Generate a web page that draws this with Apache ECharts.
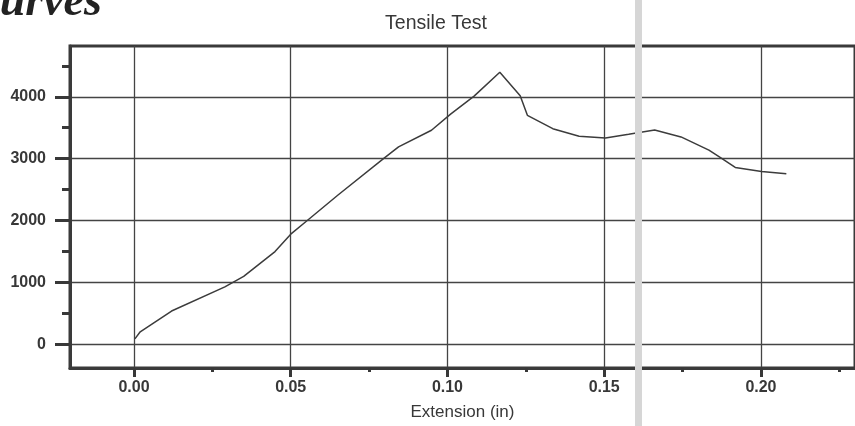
<!DOCTYPE html>
<html>
<head>
<meta charset="utf-8">
<title>Tensile Test</title>
<script src="https://cdn.jsdelivr.net/npm/echarts@6/dist/echarts.min.js"></script>
<style>
  html, body { margin: 0; padding: 0; background: #fff; }
  #main { width: 855px; height: 426px; }
</style>
</head>
<body>
<div id="main"></div>
<script>
// extension (in) and load
var extension = [0.0003, 0.002, 0.012, 0.029, 0.035, 0.045, 0.0503, 0.055, 0.065,
  0.0797, 0.0844, 0.0949, 0.101, 0.1085, 0.1167, 0.1232, 0.1255, 0.1336, 0.142,
  0.1504, 0.1578, 0.1661, 0.1745, 0.1834, 0.1871, 0.1918, 0.2002, 0.2081];
var load = [90, 205, 540, 930, 1100, 1500, 1795, 1990, 2410,
  3005, 3190, 3460, 3720, 4010, 4395, 4015, 3700, 3485, 3362,
  3336, 3394, 3465, 3352, 3139, 3018, 2858, 2795, 2757];
var xTicks = [0, 0.05, 0.1, 0.15, 0.2];
var yTicks = [0, 1000, 2000, 3000, 4000];

var points = [];
for (var i = 0; i < extension.length; i++) {
  points.push([extension[i], load[i]]);
}

var ink = '#383838';
var xMin = -0.0204, xMax = 0.23;
var yMin = -380, yMax = 4820;

var chart = echarts.init(document.getElementById('main'));
var option = {
  backgroundColor: '#fff',
  animation: false,
  title: {
    text: 'Tensile Test',
    left: 431,
    top: 9,
    textAlign: 'center',
    textStyle: { fontFamily: 'Liberation Sans', fontSize: 19.5, fontWeight: 'normal', color: ink }
  },
  grid: {
    left: 70,
    right: -11,
    top: 46,
    bottom: 53,
    show: true,
    borderColor: '#3a3a3a',
    borderWidth: 3
  },
  xAxis: {
    type: 'value',
    min: xMin,
    max: xMax,
    splitNumber: 5,
    name: 'Extension (in)',
    nameLocation: 'middle',
    nameGap: 36,
    nameTextStyle: { fontFamily: 'Liberation Sans', fontSize: 17, color: ink },
    axisLine: { show: true, onZero: false, lineStyle: { color: '#3a3a3a', width: 3 } },
    axisTick: { show: true, customValues: xTicks, length: 9, lineStyle: { color: ink, width: 3 } },
    minorTick: { show: true, splitNumber: 2, length: 4, lineStyle: { color: ink, width: 3 } },
    axisLabel: {
      customValues: xTicks,
      margin: 12,
      fontFamily: 'Liberation Sans',
      fontSize: 16,
      fontWeight: 'bold',
      color: ink,
      formatter: function (v) { return v.toFixed(2); }
    },
    splitLine: { show: true, lineStyle: { color: '#444', width: 1.3 } }
  },
  yAxis: {
    type: 'value',
    min: yMin,
    max: yMax,
    splitNumber: 5,
    axisLine: { show: true, onZero: false, lineStyle: { color: '#3a3a3a', width: 3 } },
    axisTick: { show: true, customValues: yTicks, length: 15, lineStyle: { color: ink, width: 3 } },
    minorTick: { show: true, splitNumber: 2, length: 8, lineStyle: { color: ink, width: 3 } },
    axisLabel: {
      customValues: yTicks,
      margin: 24,
      fontFamily: 'Liberation Sans',
      fontSize: 16,
      fontWeight: 'bold',
      color: ink,
      formatter: function (v) { return String(v); }
    },
    splitLine: { show: true, lineStyle: { color: '#444', width: 1.3 } }
  },
  graphic: [
    {
      // heading of the scanned page, cut off at the left edge
      type: 'text',
      left: -31,
      top: -20,
      style: {
        text: 'Curves',
        font: 'italic bold 46px "Liberation Serif"',
        fill: '#222'
      }
    },
    {
      // scanner streak
      type: 'rect',
      z: 100,
      shape: { x: 635, y: 0, width: 7, height: 426 },
      style: { fill: '#d6d6d6' }
    }
  ],
  series: [
    {
      type: 'line',
      data: points,
      showSymbol: false,
      symbol: 'none',
      lineStyle: { color: '#3c3c3c', width: 1.5 },
      z: 5
    }
  ]
};
chart.setOption(option);
</script>
</body>
</html>
